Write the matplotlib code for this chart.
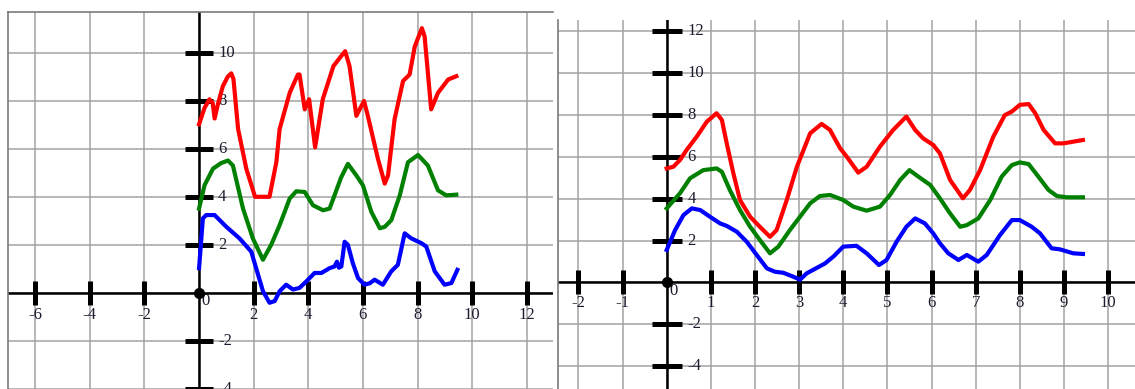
import matplotlib
matplotlib.use("Agg")
import matplotlib.pyplot as plt

# Left panel (raw curves)
left_red_x = [0.0, 0.2, 0.38, 0.5, 0.57, 0.7, 0.87, 1.05, 1.18, 1.26, 1.43, 1.73, 2.05, 2.58, 2.83, 2.95,
              3.32, 3.62, 3.68, 3.87, 4.03, 4.25, 4.53, 4.92, 5.2, 5.35, 5.51, 5.76, 6.04, 6.18, 6.55,
              6.8, 6.92, 7.16, 7.47, 7.71, 7.9, 8.16, 8.26, 8.5, 8.75, 9.12, 9.42]
left_red_y = [7.02, 7.7, 8.06, 7.9, 7.26, 7.9, 8.6, 9.0, 9.14, 8.9, 6.82, 5.17, 4.0, 4.0, 5.44, 6.82,
              8.33, 9.09, 9.09, 7.64, 8.06, 6.06, 8.06, 9.44, 9.85, 10.06, 9.44, 7.37, 7.99, 7.37, 5.58,
              4.55, 4.89, 7.23, 8.82, 9.09, 10.26, 11.02, 10.67, 7.64, 8.33, 8.88, 9.02]

left_green_x = [0.0, 0.2, 0.51, 0.8, 1.06, 1.24, 1.61, 1.97, 2.34, 2.64, 2.95, 3.32, 3.56, 3.87, 4.17,
                4.54, 4.78, 4.96, 5.2, 5.45, 5.76, 6.0, 6.31, 6.62, 6.8, 7.04, 7.35, 7.65, 8.02, 8.38,
                8.75, 9.05, 9.42]
left_green_y = [3.51, 4.48, 5.17, 5.4, 5.51, 5.3, 3.51, 2.27, 1.38, 2.0, 2.82, 3.93, 4.23, 4.2, 3.65,
                3.44, 3.51, 4.06, 4.8, 5.37, 4.89, 4.48, 3.37, 2.69, 2.75, 3.03, 4.06, 5.44, 5.74, 5.3,
                4.27, 4.06, 4.09]

left_blue_x = [0.0, 0.14, 0.26, 0.57, 1.0, 1.48, 1.91, 2.09, 2.34, 2.58, 2.77, 2.95, 3.19, 3.44, 3.68,
               3.93, 4.23, 4.48, 4.78, 4.96, 5.05, 5.12, 5.21, 5.33, 5.45, 5.63, 5.82, 6.06, 6.25, 6.43,
               6.73, 7.04, 7.28, 7.53, 7.77, 8.14, 8.32, 8.63, 8.99, 9.24, 9.46]
left_blue_y = [1.03, 3.1, 3.24, 3.24, 2.75, 2.27, 1.72, 1.03, 0.07, -0.41, -0.34, 0.07, 0.34, 0.14, 0.21,
               0.48, 0.83, 0.83, 1.03, 1.1, 1.3, 1.05, 1.1, 2.13, 2.0, 1.24, 0.62, 0.34, 0.4, 0.55,
               0.34, 0.9, 1.17, 2.48, 2.27, 2.07, 1.93, 0.9, 0.34, 0.41, 0.96]

# Right panel (smoothed curves)
right_red_x = [0.0, 0.15, 0.3, 0.45, 0.68, 0.91, 1.13, 1.25, 1.36, 1.51, 1.66, 1.89, 2.11, 2.34, 2.49,
               2.72, 2.95, 3.13, 3.25, 3.51, 3.7, 3.93, 4.08, 4.34, 4.53, 4.83, 5.13, 5.43, 5.63, 5.81,
               6.04, 6.19, 6.42, 6.71, 6.87, 7.1, 7.4, 7.66, 7.82, 8.0, 8.2, 8.35, 8.54, 8.8, 8.99,
               9.21, 9.43]
right_red_y = [5.45, 5.53, 5.85, 6.33, 6.97, 7.69, 8.09, 7.77, 6.65, 5.22, 3.94, 3.14, 2.66, 2.18, 2.5,
               3.94, 5.53, 6.49, 7.13, 7.58, 7.29, 6.41, 6.01, 5.25, 5.53, 6.49, 7.29, 7.93, 7.29, 6.89,
               6.57, 6.17, 4.9, 4.02, 4.42, 5.37, 6.97, 8.0, 8.17, 8.49, 8.53, 8.09, 7.29, 6.65, 6.65,
               6.73, 6.81]

right_green_x = [0.0, 0.3, 0.53, 0.83, 1.13, 1.25, 1.43, 1.66, 1.89, 2.11, 2.34, 2.53, 2.79, 3.02, 3.25,
                 3.47, 3.7, 4.0, 4.23, 4.53, 4.83, 5.06, 5.29, 5.5, 5.7, 5.97, 6.19, 6.42, 6.65, 6.8,
                 7.06, 7.33, 7.59, 7.82, 8.0, 8.2, 8.42, 8.65, 8.84, 9.06, 9.43]
right_green_y = [3.54, 4.26, 4.98, 5.37, 5.45, 5.29, 4.42, 3.46, 2.66, 2.03, 1.39, 1.71, 2.5, 3.14, 3.78,
                 4.13, 4.18, 3.94, 3.62, 3.43, 3.62, 4.18, 4.9, 5.37, 5.06, 4.66, 4.02, 3.3, 2.66, 2.74,
                 3.06, 3.94, 5.06, 5.61, 5.74, 5.66, 5.06, 4.42, 4.13, 4.07, 4.07]

right_blue_x = [0.0, 0.19, 0.38, 0.57, 0.76, 0.98, 1.21, 1.36, 1.59, 1.81, 2.04, 2.27, 2.45, 2.64, 2.87,
                3.02, 3.17, 3.59, 3.78, 4.0, 4.3, 4.53, 4.81, 4.98, 5.21, 5.43, 5.63, 5.85, 6.04, 6.19,
                6.38, 6.61, 6.8, 7.06, 7.25, 7.55, 7.82, 8.0, 8.27, 8.46, 8.72, 8.91, 9.21, 9.43]
right_blue_y = [1.55, 2.5, 3.22, 3.54, 3.46, 3.14, 2.82, 2.7, 2.42, 1.95, 1.31, 0.67, 0.51, 0.46, 0.27,
                0.13, 0.43, 0.91, 1.24, 1.71, 1.75, 1.39, 0.83, 1.07, 1.95, 2.66, 3.06, 2.82, 2.34, 1.87,
                1.39, 1.07, 1.31, 0.99, 1.31, 2.26, 2.98, 2.98, 2.66, 2.34, 1.63, 1.58, 1.39, 1.36]

left_xticks = [-6, -4, -2, 2, 4, 6, 8, 10, 12]
left_yticks = [-4, -2, 2, 4, 6, 8, 10]
right_xticks = [-2, -1, 1, 2, 3, 4, 5, 6, 7, 8, 9, 10]
right_yticks = [-4, -2, 2, 4, 6, 8, 10, 12]

W, H = 1135, 389
fig = plt.figure(figsize=(W / 100, H / 100), dpi=100)
fig.patch.set_facecolor("white")

grid_col = "#a3a3a3"
border_col = "#7a7a7a"
text_col = "#1c1c30"
font = "Liberation Serif"
fsize = 12


def setup(ax, xlim, ylim, xgrid, ygrid, xticks, yticks, xtick_len, ytick_len, xlab_off, ylab_off, zero_off, borders):
    ax.set_xlim(*xlim)
    ax.set_ylim(*ylim)
    ax.set_xticks(xgrid)
    ax.set_yticks(ygrid)
    ax.tick_params(length=0, labelbottom=False, labelleft=False)
    ax.grid(True, color=grid_col, lw=1.1, zorder=0)
    ax.set_axisbelow(True)
    for side, spine in ax.spines.items():
        if side in borders:
            spine.set_color(border_col)
            spine.set_linewidth(1.2)
        else:
            spine.set_visible(False)
    ax.axhline(0, color="black", lw=1.8, zorder=2)
    ax.axvline(0, color="black", lw=1.8, zorder=2)
    ax.plot(xticks, [0] * len(xticks), ls="none", marker="|", ms=xtick_len, mew=3.6, color="black", zorder=2)
    ax.plot([0] * len(yticks), yticks, ls="none", marker="_", ms=ytick_len, mew=3.6, color="black", zorder=2)
    ax.plot([0], [0], "o", ms=7, color="black", zorder=6, clip_on=False)
    for t in xticks:
        ax.annotate(str(t), (t, 0), xytext=(0, -xlab_off), textcoords="offset pixels",
                    ha="center", va="center", fontsize=fsize, family=font, color=text_col,
                    annotation_clip=False, zorder=1)
    for t in yticks:
        ax.annotate(str(t), (0, t), xytext=(ylab_off, 0), textcoords="offset pixels",
                    ha="left", va="center", fontsize=fsize, family=font, color=text_col,
                    annotation_clip=False, zorder=1)
    ax.annotate("0", (0, 0), xytext=zero_off, textcoords="offset pixels",
                ha="center", va="center", fontsize=fsize, family=font, color=text_col,
                annotation_clip=False, zorder=1)


# left panel
axl = fig.add_axes([7.9 / W, 0, (552.7 - 7.9) / W, (389 - 12.3) / H])
setup(axl, (-7.0, 12.95), (-3.88, 11.68), range(-6, 13, 2), range(-4, 12, 2),
      left_xticks, left_yticks, 17, 20, 22, 19, (6, -8), ["left", "top"])
axl.plot(left_red_x, left_red_y, color="#ff0000", lw=3, zorder=4, solid_joinstyle="round")
axl.plot(left_green_x, left_green_y, color="#008000", lw=3, zorder=4, solid_joinstyle="round")
axl.plot(left_blue_x, left_blue_y, color="#0000ff", lw=3, zorder=4, solid_joinstyle="round")

# right panel
axr = fig.add_axes([558.3 / W, 0, (W - 558.3) / W, (389 - 20) / H])
setup(axr, (-2.456, 10.61), (-5.1, 12.55), range(-2, 11), range(-4, 13, 2),
      right_xticks, right_yticks, 17, 21, 21, 21, (7, -9), ["left"])
axr.plot(right_red_x, right_red_y, color="#ff0000", lw=3, zorder=4, solid_joinstyle="round")
axr.plot(right_green_x, right_green_y, color="#008000", lw=3, zorder=4, solid_joinstyle="round")
axr.plot(right_blue_x, right_blue_y, color="#0000ff", lw=3, zorder=4, solid_joinstyle="round")

fig.savefig("out.png", dpi=100, facecolor="white")
